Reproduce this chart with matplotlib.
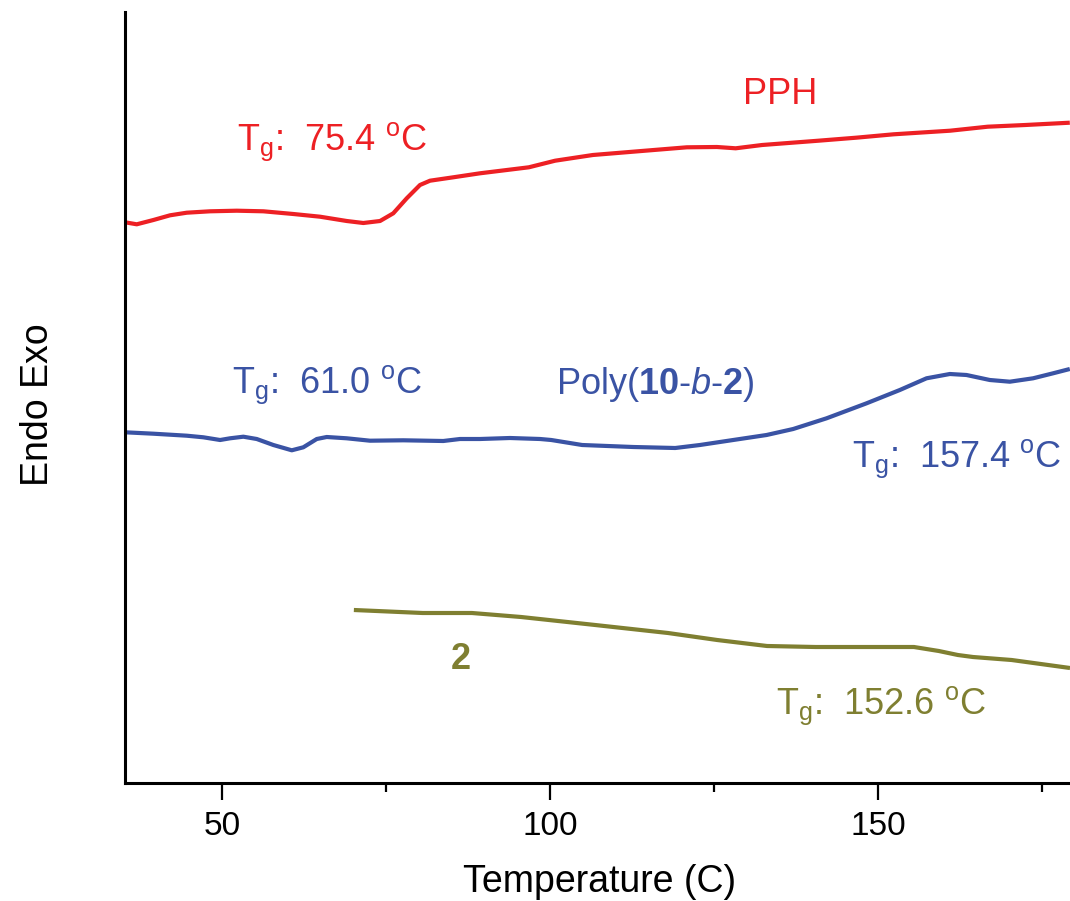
import matplotlib
matplotlib.use("Agg")
import matplotlib.pyplot as plt
from matplotlib.ticker import MultipleLocator

plt.rcParams['font.family'] = ['Liberation Sans', 'DejaVu Sans']
plt.rcParams['mathtext.fontset'] = 'custom'
plt.rcParams['mathtext.rm'] = 'Liberation Sans'
plt.rcParams['mathtext.it'] = 'Liberation Sans:italic'
plt.rcParams['mathtext.bf'] = 'Liberation Sans:bold'

# DSC traces (heat flow, arbitrary offset units) vs temperature
pph_T = [35.21, 36.99, 39.53, 42.07, 44.62, 48.17, 52.24, 56.30, 60.87, 64.94,
         69.01, 71.54, 74.09, 76.11, 78.16, 80.18, 81.71, 85.26, 89.33, 96.78,
         100.79, 106.54, 113.41, 120.87, 125.46, 128.32, 132.35, 140.95, 146.68,
         152.41, 161.02, 166.75, 172.48, 179.27]
pph_hf = [5.607, 5.587, 5.630, 5.677, 5.703, 5.717, 5.723, 5.717, 5.690, 5.663,
          5.620, 5.600, 5.620, 5.697, 5.847, 5.980, 6.023, 6.057, 6.097, 6.157,
          6.223, 6.280, 6.317, 6.357, 6.360, 6.347, 6.380, 6.423, 6.453,
          6.487, 6.523, 6.563, 6.580, 6.603]

blk_T = [35.21, 39.53, 44.62, 47.15, 49.70, 51.22, 53.25, 55.29, 57.82, 60.63,
         62.39, 64.44, 65.96, 69.01, 72.56, 77.64, 83.73, 86.28, 89.33, 93.9,
         98.5, 100.2, 104.9, 112.7, 119.1, 122.87, 127.94, 133.03, 137.09,
         142.18, 148.28, 153.35, 157.42, 160.98, 163.52, 167.07, 170.12, 173.67,
         176.72, 179.27]
blk_hf = [3.507, 3.493, 3.473, 3.457, 3.430, 3.447, 3.463, 3.440, 3.380, 3.327,
          3.357, 3.440, 3.460, 3.447, 3.423, 3.427, 3.420, 3.440, 3.440, 3.45,
          3.44, 3.43, 3.38, 3.36, 3.35, 3.380, 3.430, 3.480, 3.540,
          3.647, 3.797, 3.930, 4.047, 4.090, 4.080, 4.030, 4.013, 4.047,
          4.097, 4.140]

m2_T = [70.1, 80.6, 88.1, 95.6, 106.9, 118.0, 125.5, 133.1, 140.5, 155.5,
        159.3, 162.2, 164.5, 170.4, 179.3]
m2_hf = [1.73, 1.70, 1.70, 1.66, 1.58, 1.50, 1.43, 1.37, 1.36, 1.36,
         1.32, 1.28, 1.26, 1.23, 1.15]

RED = '#ED2024'
BLUE = '#3A53A4'
OLIVE = '#7F7F31'

fig = plt.figure(figsize=(10.70, 9.01), dpi=100)
ax = fig.add_axes([125/1070, 118/901, 945/1070, 771/901])

for T, hf, c in ((pph_T, pph_hf, RED), (blk_T, blk_hf, BLUE), (m2_T, m2_hf, OLIVE)):
    ax.plot(T, hf, color=c, lw=3.0, solid_capstyle='butt', solid_joinstyle='round')

ax.set_xlim(35.2, 179.3)
ax.set_ylim(0, 7.71)

for s in ('top', 'right'):
    ax.spines[s].set_visible(False)
for s in ('left', 'bottom'):
    ax.spines[s].set_linewidth(2.2)

ax.set_yticks([])
ax.xaxis.set_major_locator(MultipleLocator(50))
ax.xaxis.set_minor_locator(MultipleLocator(25))
ax.tick_params(axis='x', which='major', length=12, width=1.6, direction='out',
               labelsize=24, pad=8)
ax.tick_params(axis='x', which='minor', length=6.5, width=1.6, direction='out')

fig.text(600/1070, 1 - 892/901, 'Temperature (C)', ha='center', va='baseline',
         fontsize=27)
fig.text(38/1070, 1 - 405/901, 'Endo Exo', ha='center', va='center',
         rotation=90, fontsize=27)

fs = 26
deg = r'$^\mathregular{o}$C'
tg = r'T$_\mathregular{g}$:  '
ax.text(52.3, 6.33, tg + '75.4 ' + deg, color=RED, fontsize=fs, va='baseline')
ax.text(129.4, 6.79, 'PPH', color=RED, fontsize=fs, va='baseline')
ax.text(51.5, 3.90, tg + '61.0 ' + deg, color=BLUE, fontsize=fs, va='baseline')
ax.text(100.9, 3.89, r'Poly($\mathbf{10}$-$\mathit{b}$-$\mathbf{2}$)', color=BLUE,
        fontsize=fs, va='baseline')
ax.text(146.0, 3.16, tg + '157.4 ' + deg, color=BLUE, fontsize=fs, va='baseline')
ax.text(84.8, 1.14, '2', color=OLIVE, fontsize=fs, fontweight='bold', va='baseline')
ax.text(134.5, 0.69, tg + '152.6 ' + deg, color=OLIVE, fontsize=fs, va='baseline')

fig.savefig('out.png', dpi=100)
